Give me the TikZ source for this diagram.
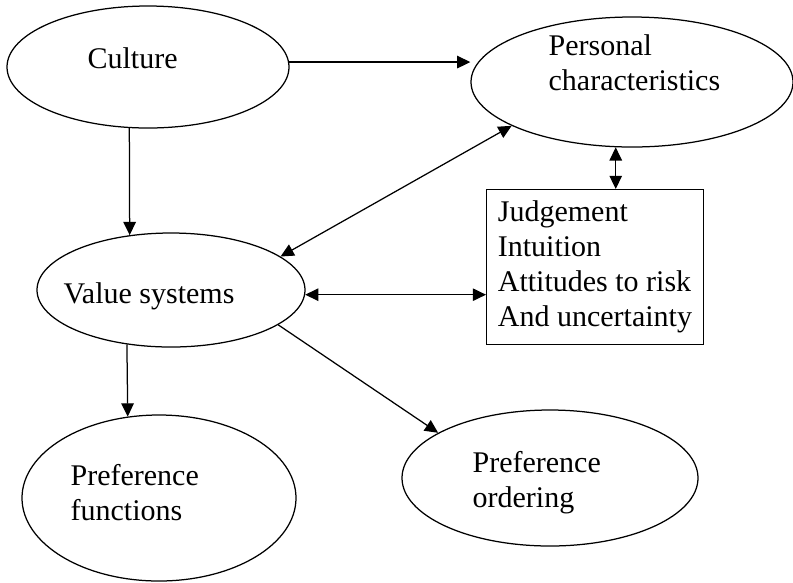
\documentclass[tikz,border=0pt]{standalone}
\usepackage{fontspec}
\setmainfont{Liberation Serif}
\usetikzlibrary{shapes.geometric,arrows.meta}

\begin{document}
\begin{tikzpicture}[x=0.4pt,y=-0.4pt,line width=0.5pt,
  font=\fontsize{12}{14}\selectfont,
  blob/.style={ellipse,draw,inner sep=0pt},
  words/.style={anchor=base west,inner sep=0pt,align=left},
  link/.style={-{Triangle[length=5.3pt,width=5pt]}},
  both/.style={{Triangle[length=5.3pt,width=5pt]}-{Triangle[length=5.3pt,width=5pt]}}]
\useasboundingbox (0,0) rectangle (793,582);
% ellipses
\node[blob,minimum width=112.8pt,minimum height=48.8pt] (culture) at (148,67) {};
\node[blob,minimum width=128.8pt,minimum height=52pt] (personal) at (632,82) {};
\node[blob,minimum width=107.2pt,minimum height=45.6pt] (values) at (171,290) {};
\node[blob,minimum width=109.6pt,minimum height=66.4pt] (functions) at (159,498) {};
\node[blob,minimum width=118.4pt,minimum height=54.4pt] (ordering) at (550,478) {};
% texts (base = last line)
\node[words] (culturetxt) at (87,68) {Culture};
\node[words] (personaltxt) at (548,90) {Personal\\characteristics};
\node[words] (valuestxt) at (63,303) {Value systems};
\node[words] (functionstxt) at (70,520) {Preference\\functions};
\node[words] (orderingtxt) at (472,507) {Preference\\ordering};
\node[draw,anchor=north west,align=left,inner sep=4.5pt] (factors) at (486,189)
  {Judgement\\Intuition\\Attitudes to risk\\And uncertainty};
% arrows
\draw[link] (culture.2) -- (culture.2 -| personal.west);
\draw[link] (culture.253) -- (values.127);
\draw[both] (values.17) -- (personal.200);
\draw[both] (values.358) -- (values.358 -| factors.west);
\draw[both] (personal.256) -- (personal.256 |- factors.north);
\draw[link] (values.231) -- (functions.111);
\draw[link] (values.342) -- (ordering.158);
\end{tikzpicture}
\end{document}
